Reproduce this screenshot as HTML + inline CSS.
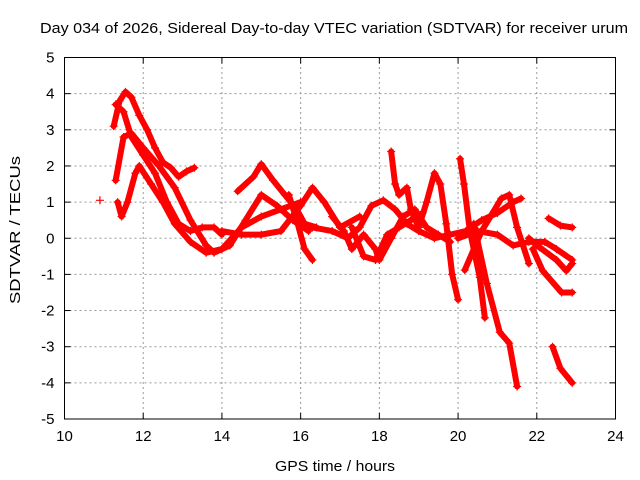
<!DOCTYPE html>
<html><head><meta charset="utf-8"><style>
body{margin:0;background:#fff}
svg{display:block;font-family:"Liberation Sans",sans-serif}
</style></head><body>
<svg id="chart" width="640" height="480" viewBox="0 0 640 480">
<text x="40" y="33" font-size="15" textLength="588" lengthAdjust="spacingAndGlyphs">Day 034 of 2026, Sidereal Day-to-day VTEC variation (SDTVAR) for receiver urum</text>
<text transform="translate(20,230) rotate(-90)" font-size="15" text-anchor="middle" textLength="148" lengthAdjust="spacingAndGlyphs">SDTVAR / TECUs</text>
<text x="335" y="471" font-size="15" text-anchor="middle" textLength="120" lengthAdjust="spacingAndGlyphs">GPS time / hours</text>
<g id="grid"></g>
<g id="ticks"></g>
<g id="series"></g>
<rect x="64.5" y="57.5" width="551" height="361.5" fill="none" stroke="#000" stroke-width="1"/>
</svg>
<script>
const xTicks=[10,12,14,16,18,20,22,24];
const yTicks=[-5,-4,-3,-2,-1,0,1,2,3,4,5];
const t1=[11.25,11.4,11.55,11.7,11.9,12.1,12.3,12.5,12.7,12.9,13.1,13.3];
const v1=[3.1,3.8,4.05,3.9,3.4,3.0,2.5,2.1,1.95,1.7,1.85,1.95];
const t2=[11.3,11.5,11.7,12.0,12.3,12.6,12.9,13.2,13.5,13.8,14.0];
const v2=[3.7,3.5,2.8,2.3,1.8,1.0,0.4,0.2,0.3,0.3,0.1];
const t3=[11.35,11.45,11.6,11.8,11.9,12.2,12.5,12.8,13.2,13.6,14.0,14.5,15.0,15.5,16.0];
const v3=[1.0,0.6,1.0,1.8,2.0,1.5,1.0,0.4,-0.1,-0.4,-0.3,0.3,0.6,0.8,1.0];
const t4=[11.3,11.5,11.7,12.0,12.4,12.8,13.2,13.6,13.8,14.2,14.6,15.0,15.4,15.8,16.2];
const v4=[1.6,2.8,2.9,2.5,2.0,1.4,0.5,-0.2,-0.4,-0.2,0.5,1.2,0.9,0.5,0.2];
const t5=[14.4,14.8,15.0,15.3,15.6,15.9,16.1,16.4];
const v5=[1.3,1.7,2.05,1.6,1.2,0.8,0.4,0.3];
const t6=[14.0,14.5,15.0,15.5,16.0,16.3,16.6,17.0,17.5];
const v6=[0.2,0.1,0.1,0.2,0.9,1.4,1.0,0.3,0.6];
const t7=[15.7,15.9,16.1,16.3];
const v7=[1.2,0.5,-0.3,-0.6];
const t8=[16.3,16.8,17.2,17.5,17.8,18.1,18.4,18.7,19.0,19.4,19.8,20.2,20.6,21.0,21.4,21.6];
const v8=[0.3,0.2,0.0,0.3,0.9,1.05,0.8,0.4,0.2,0.0,0.1,0.2,0.5,0.7,1.0,1.1];
const t9=[16.8,17.1,17.3,17.6,17.9,18.0,18.3,18.6,18.9,19.2,19.5,19.8];
const v9=[0.6,0.2,-0.3,0.1,-0.3,-0.6,0.0,0.6,0.8,0.3,0.1,-0.1];
const t10=[17.3,17.6,17.9,18.2,18.5,18.8,19.1];
const v10=[0.3,-0.5,-0.6,0.1,0.3,0.5,0.7];
const t11=[18.3,18.4,18.5,18.7,18.8,19.0,19.2,19.4,19.55,19.7,19.85,20.0];
const v11=[2.4,1.5,1.2,1.4,0.8,0.3,1.0,1.8,1.5,0.4,-1.0,-1.7];
const t12=[20.05,20.15,20.3,20.55,20.68];
const v12=[2.2,1.5,0.2,-1.08,-2.2];
const t13=[20.4,20.73,21.06,21.3,21.5];
const v13=[0.4,-1.25,-2.6,-2.9,-4.1];
const t14=[20.17,20.6,21.1,21.3,21.5,21.8];
const v14=[-0.88,0.2,1.1,1.2,0.3,-0.7];
const t15=[22.3,22.6,22.9];
const v15=[0.55,0.35,0.3];
const t16=[21.8,22.07,22.5,22.75,22.9];
const v16=[0.0,-0.25,-0.6,-0.9,-0.7];
const t17=[21.9,22.15,22.63,22.9];
const v17=[-0.3,-0.9,-1.5,-1.5];
const t18=[22.4,22.6,22.9];
const v18=[-3.0,-3.6,-4.0];
const t19=[20.0,20.5,21.0,21.4,21.8,22.2,22.5,22.9];
const v19=[0.0,0.2,0.1,-0.2,-0.1,-0.1,-0.3,-0.6];
const t20=[10.9];
const v20=[1.05];
const seriesT=[t1,t2,t3,t4,t5,t6,t7,t8,t9,t10,t11,t12,t13,t14,t15,t16,t17,t18,t19,t20];
const seriesV=[v1,v2,v3,v4,v5,v6,v7,v8,v9,v10,v11,v12,v13,v14,v15,v16,v17,v18,v19,v20];

const X0=64.5,X1=615.5,Y0=419,Y1=57.5;
const xs=t=>X0+(t-10)/14*(X1-X0);
const ys=v=>Y0-(v+5)/10*(Y0-Y1);
const NS='http://www.w3.org/2000/svg';
const grid=document.getElementById('grid'),ticks=document.getElementById('ticks'),ser=document.getElementById('series');
function mk(tag,attrs,parent){const e=document.createElementNS(NS,tag);for(const k in attrs)e.setAttribute(k,attrs[k]);parent.appendChild(e);return e;}
xTicks.forEach(t=>{
  const x=xs(t);
  if(t>10&&t<24){const g=mk('line',{x1:x,x2:x,y1:Y0,y2:Y1,stroke:'#999','stroke-dasharray':'2,3'},grid);
  
  }
  mk('line',{x1:x,x2:x,y1:Y0,y2:Y0-6,stroke:'#000'},ticks);
  mk('line',{x1:x,x2:x,y1:Y1,y2:Y1+6,stroke:'#000'},ticks);
  const l=mk('text',{x:x,y:Y0+22,'font-size':15,'text-anchor':'middle'},ticks);
  l.textContent=t;
  
  
});
yTicks.forEach(v=>{
  const y=ys(v);
  if(v>-5&&v<5){const g=mk('line',{x1:X0,x2:X1,y1:y,y2:y,stroke:'#999','stroke-dasharray':'2,3'},grid);
  
  }
  mk('line',{x1:X0,x2:X0+6,y1:y,y2:y,stroke:'#000'},ticks);
  mk('line',{x1:X1,x2:X1-6,y1:y,y2:y,stroke:'#000'},ticks);
  const l=mk('text',{x:X0-10,y:y+5,'font-size':15,'text-anchor':'end'},ticks);
  l.textContent=v;
  
  
});
seriesT.forEach((ts,i)=>{
  const vs=seriesV[i];
  const pts=ts.map((t,j)=>xs(t)+','+ys(vs[j])).join(' ');
  if(ts.length>1){
    const p=mk('polyline',{points:pts,fill:'none',stroke:'#f00','stroke-width':6,'stroke-linejoin':'round','stroke-linecap':'round'},ser);
    
    
  }
  ts.forEach((t,j)=>{
    const x=xs(t),y=ys(vs[j]);
    const m=mk('path',{d:`M${x-4},${y}h8M${x},${y-4}v8`,stroke:'#f00','stroke-width':1.2},ser);
    
    
  });
});
</script>
</body></html>
